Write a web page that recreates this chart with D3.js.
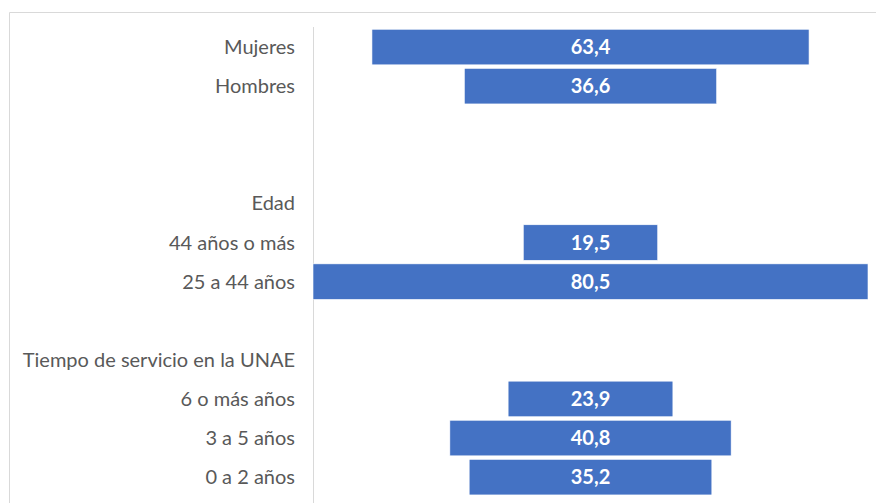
<!DOCTYPE html>
<html>
<head>
<meta charset="utf-8">
<script src="https://cdn.jsdelivr.net/npm/d3@7"></script>
<style>
  html, body { margin: 0; padding: 0; background: #fff; }
  #chartDiv { width: 876px; height: 503px; }
</style>
</head>
<body>
<div id="chartDiv"></div>
<script>
// filas del gráfico (las vacías son separadores)
const categories = ["Mujeres", "Hombres", "", "", "Edad", "44 años o más", "25 a 44 años", "",
                    "Tiempo de servicio en la UNAE", "6 o más años", "3 a 5 años", "0 a 2 años"];
const values = [63.4, 36.6, null, null, null, 19.5, 80.5, null, null, 23.9, 40.8, 35.2];
const valueLabels = ["63,4", "36,6", "", "", "", "19,5", "80,5", "", "", "23,9", "40,8", "35,2"];

const width = 876, height = 503;
const svg = d3.select("#chartDiv").append("svg")
    .attr("width", width)
    .attr("height", height)
    .attr("viewBox", [0, 0, width, height]);

// marco del área del gráfico
svg.append("path")
    .attr("d", `M9.5,${height} V12.5 H${width}`)
    .attr("fill", "none")
    .attr("stroke", "#d9d9d9")
    .attr("stroke-width", 1);

const maxV = d3.max(values);
const x = d3.scaleLinear()
    .domain([-maxV / 2, maxV / 2])
    .range([313, 868]);

const y = d3.scaleBand()
    .domain(d3.range(categories.length))
    .range([27.5, 496.7])
    .paddingInner(0.09)
    .paddingOuter(0.045);

// eje vertical
svg.append("line")
    .attr("x1", 313.5).attr("x2", 313.5)
    .attr("y1", 27).attr("y2", height)
    .attr("stroke", "#d9d9d9");

const rows = d3.range(categories.length);

svg.append("g")
  .selectAll("text")
  .data(rows)
  .join("text")
    .attr("x", 295)
    .attr("y", i => y(i) + y.bandwidth() / 2)
    .attr("dy", "0.35em")
    .attr("text-anchor", "end")
    .attr("fill", "#595959")
    .style("font-family", "Lato, 'Open Sans', sans-serif")
    .style("font-size", "20px")
    .text(i => categories[i]);

const bars = rows.filter(i => values[i] != null);

svg.append("g")
    .attr("fill", "#4472c4")
  .selectAll("rect")
  .data(bars)
  .join("rect")
    .attr("x", i => x(-values[i] / 2))
    .attr("width", i => x(values[i] / 2) - x(-values[i] / 2))
    .attr("y", i => y(i))
    .attr("height", y.bandwidth())
    .attr("stroke", "#ffffff")
    .attr("stroke-width", 0.6);

svg.append("g")
  .selectAll("text")
  .data(bars)
  .join("text")
    .attr("x", x(0))
    .attr("y", i => y(i) + y.bandwidth() / 2)
    .attr("dy", "0.35em")
    .attr("text-anchor", "middle")
    .attr("fill", "#fff")
    .style("font-family", "Lato, 'Open Sans', sans-serif")
    .style("font-size", "20px")
    .style("font-weight", "bold")
    .text(i => valueLabels[i]);
</script>
</body>
</html>
